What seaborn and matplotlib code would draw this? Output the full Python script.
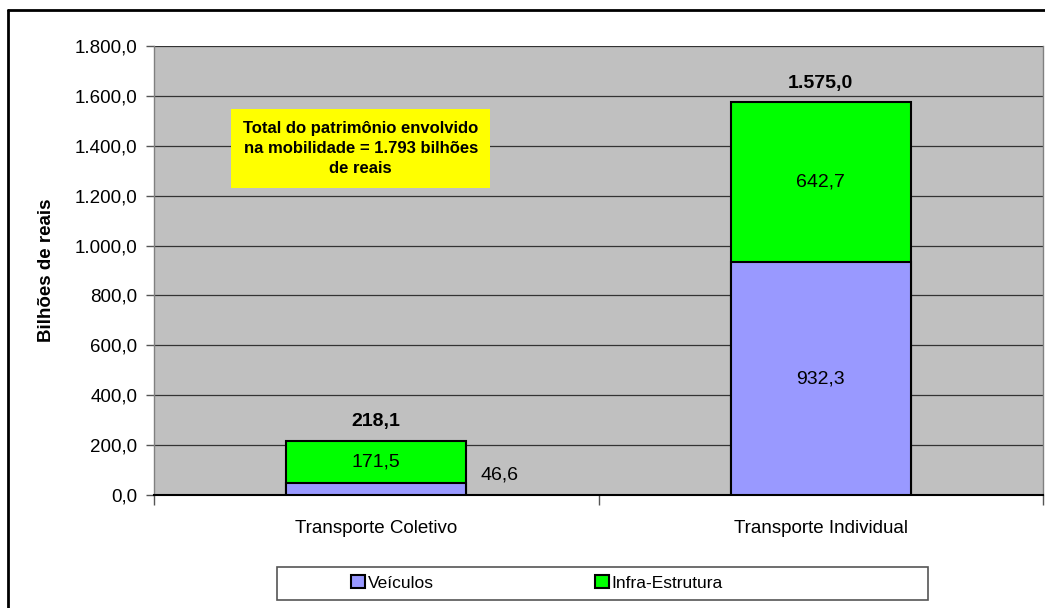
import matplotlib.pyplot as plt
import matplotlib.patches as mpatches
from matplotlib.lines import Line2D
from matplotlib.ticker import FuncFormatter
import pandas as pd
import seaborn as sns

sns.set_theme(style="white")
plt.rcParams['font.family'] = ['Liberation Sans', 'DejaVu Sans']
plt.rcParams['text.color'] = 'black'
plt.rcParams['axes.labelcolor'] = 'black'
plt.rcParams['xtick.color'] = 'black'
plt.rcParams['ytick.color'] = 'black'

categorias = ["Transporte Coletivo", "Transporte Individual"]
veiculos = [46.6, 932.3]
infra = [171.5, 642.7]
totais = [218.1, 1575.0]
series = ["Veículos", "Infra-Estrutura"]
cor_veic = "#9999FF"
cor_infra = "#00FF00"


def br(v, casas=1):
    s = f"{v:,.{casas}f}"
    return s.replace(",", "X").replace(".", ",").replace("X", ".")


df = pd.DataFrame({"cat": categorias, "veic": veiculos, "infra": infra,
                   "total": [v + i for v, i in zip(veiculos, infra)]})

fig = plt.figure(figsize=(10.45, 6.08), dpi=100)
ax = fig.add_axes([154 / 1045, 1 - 495 / 608, (1043 - 154) / 1045, (495 - 46) / 608])
ax.set_facecolor("#C0C0C0")

# stacked: total (green) first, then vehicles (blue) over the bottom
sns.barplot(data=df, x="cat", y="total", color=cor_infra, width=0.405,
            edgecolor="black", linewidth=1.5, saturation=1, ax=ax, zorder=3)
sns.barplot(data=df, x="cat", y="veic", color=cor_veic, width=0.405,
            edgecolor="black", linewidth=1.5, saturation=1, ax=ax, zorder=4)

ax.set_xlim(-0.5, 1.5)
ax.set_ylim(0, 1800)
ax.set_yticks(range(0, 1801, 200))
ax.yaxis.set_major_formatter(FuncFormatter(lambda v, p: br(v)))
ax.grid(axis="y", color="#333333", linewidth=0.9, zorder=1)
ax.set_axisbelow(True)
ax.tick_params(axis="y", which="major", direction="out", length=6, width=1,
               color="#555555", left=True, labelsize=13.5, pad=6)
ax.tick_params(axis="x", which="major", length=0, labelsize=13.5, pad=18)
ax.set_xticks([-0.5, 0.5, 1.5], minor=True)
ax.tick_params(axis="x", which="minor", direction="out", length=7, width=1,
               color="#555555", bottom=True)
ax.set_xlabel("")
ax.set_ylabel("Bilhões de reais", fontsize=13.5, fontweight="bold", labelpad=14)

for side in ["left", "right"]:
    ax.spines[side].set_color("#808080")
    ax.spines[side].set_linewidth(1)
ax.spines["top"].set_visible(False)
ax.spines["bottom"].set_color("black")
ax.spines["bottom"].set_linewidth(1.5)

# data labels
for i, (v, inf, tot) in enumerate(zip(veiculos, infra, totais)):
    ax.text(i, tot + 75, br(tot), ha="center", va="center", fontsize=14,
            fontweight="bold", zorder=6)
    ax.text(i, v + inf / 2, br(inf), ha="center", va="center", fontsize=14, zorder=6)
    if v > 150:
        ax.text(i, v / 2, br(v), ha="center", va="center", fontsize=14, zorder=6)
    else:
        ax.text(i + 0.235, v + 35, br(v), ha="left", va="center", fontsize=14, zorder=6)

# yellow note
ax.text(-0.035, 1390, "Total do patrimônio envolvido\nna mobilidade = 1.793 bilhões\nde reais",
        ha="center", va="center", fontsize=12, fontweight="bold", linespacing=1.4,
        zorder=6,
        bbox=dict(boxstyle="square,pad=0.72", facecolor="#FFFF00", edgecolor="none"))

# legend
fig.patches.append(mpatches.Rectangle((277 / 1045, 1 - 600 / 608), (928 - 277) / 1045,
                                      33 / 608, transform=fig.transFigure,
                                      facecolor="white", edgecolor="#555555",
                                      linewidth=1.2))
handles = [mpatches.Patch(facecolor=cor_veic, edgecolor="black", linewidth=1.5),
           mpatches.Patch(facecolor=cor_infra, edgecolor="black", linewidth=1.5)]
fig.legend(handles, series, loc="center", bbox_to_anchor=(537 / 1045, 1 - 583 / 608),
           ncol=2, frameon=False, fontsize=12.5, handlelength=0.8, handleheight=0.8,
           handletextpad=0.15, columnspacing=9.3)

# outer chart border
fig.add_artist(Line2D([8 / 1045, 8 / 1045], [0, 1 - 10 / 608], transform=fig.transFigure,
                      color="black", linewidth=2))
fig.add_artist(Line2D([8 / 1045, 1], [1 - 10 / 608, 1 - 10 / 608], transform=fig.transFigure,
                      color="black", linewidth=2))

fig.savefig("out.png", dpi=100, facecolor="white")
